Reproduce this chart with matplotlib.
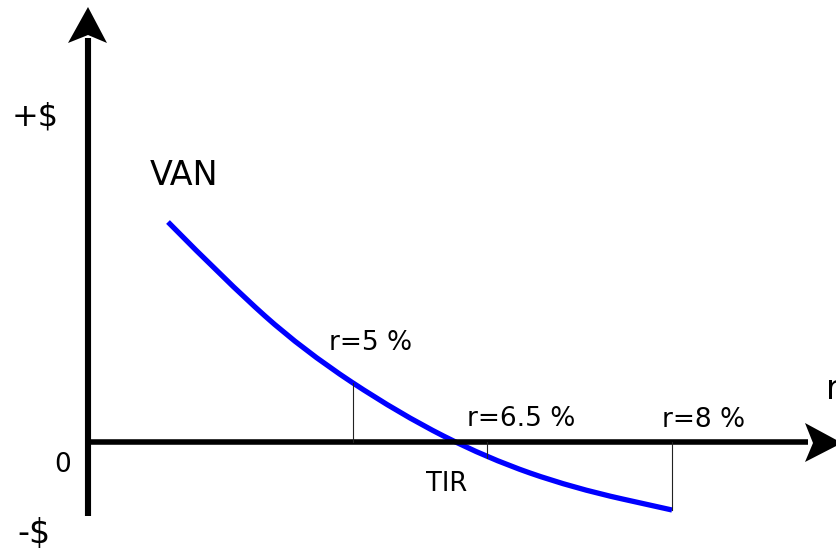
import numpy as np
import matplotlib.pyplot as plt
from matplotlib.patches import Polygon, PathPatch
from matplotlib.path import Path

## DATA (diagram coordinates)
# VAN curve
van_x = [168, 227, 303, 400, 487, 573, 672]
van_y = [222, 282, 350, 414, 458, 488, 510]

# rate markers
rate_labels = ['r=5 %', 'r=6.5 %', 'r=8 %']
rate_x = [353, 487, 672]
rate_label_pos = [(329, 350), (467, 426), (662, 427)]

axis_y = 442   # horizontal axis (VAN = 0)
axis_x = 88    # vertical axis

## FIGURE
fig = plt.figure(figsize=(8.36, 5.5), dpi=100)
ax = fig.add_axes([0, 0, 1, 1])
ax.set_xlim(0, 836)
ax.set_ylim(550, 0)
ax.axis('off')

# axes with arrow heads
ax.plot([axis_x, axis_x], [516, 38], color='k', lw=4.4, solid_capstyle='butt')
ax.plot([axis_x, 808], [axis_y, axis_y], color='k', lw=4.0, solid_capstyle='butt')
ax.add_patch(Polygon([(88, 7), (68, 43), (88, 35), (107, 43)], closed=True,
                     color='k', lw=0))
ax.add_patch(Polygon([(842, 443), (805, 423), (813, 443), (805, 462)], closed=True,
                     color='k', lw=0))

# VAN curve, drawn as a smooth path through the read points
pts = np.column_stack([van_x, van_y]).astype(float)
verts = [pts[0]]
codes = [Path.MOVETO]
for i in range(1, len(pts) - 1):
    mid = (pts[i] + pts[i + 1]) / 2
    verts += [pts[i], mid]
    codes += [Path.CURVE3, Path.CURVE3]
verts.append(pts[-1])
codes.append(Path.LINETO)
curve = Path(verts, codes)
ax.add_patch(PathPatch(curve, facecolor='none', edgecolor='#0000ff',
                       lw=3.8, capstyle='butt'))

# where the drawn curve sits at each rate
cv = curve.interpolated(40).vertices
cv = cv[np.argsort(cv[:, 0])]

# rate lines and labels
for lab, x, (tx, ty) in zip(rate_labels, rate_x, rate_label_pos):
    y = np.interp(x, cv[:, 0], cv[:, 1])
    ax.plot([x, x], [axis_y, y], color='#222222', lw=0.8)
    ax.text(tx, ty, lab, fontsize=19, ha='left', va='baseline')

ax.text(12, 125, '+$', fontsize=23, ha='left', va='baseline')
ax.text(150, 185, 'VAN', fontsize=24, ha='left', va='baseline')
ax.text(826, 399, 'r', fontsize=24, ha='left', va='baseline')
ax.text(426, 491, 'TIR', fontsize=18.5, ha='left', va='baseline')
ax.text(54, 472, '0', fontsize=19, ha='left', va='baseline')
ax.text(17, 543, '-$', fontsize=24, ha='left', va='baseline')

fig.savefig('out.png', dpi=100)
